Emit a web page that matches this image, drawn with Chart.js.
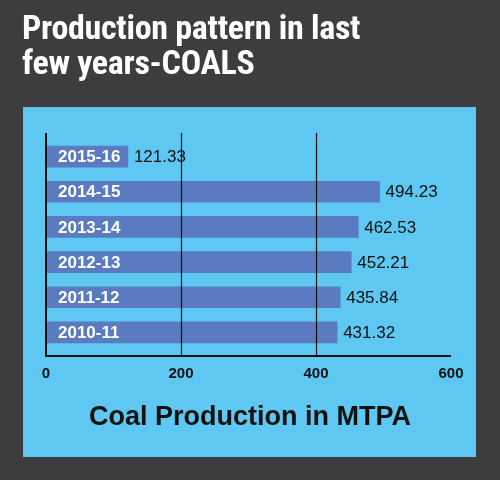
<!DOCTYPE html>
<html>
<head>
<meta charset="utf-8">
<script src="https://cdn.jsdelivr.net/npm/chart.js@4"></script>
<style>
  body { margin: 0; background: #3d3d3f; }
  #wrap { position: relative; width: 500px; height: 480px; }
  #title { position: absolute; left: 22px; top: 10px; color: #fff; font: bold 34px "Liberation Sans Narrow", "Roboto Condensed", sans-serif; line-height: 35px; letter-spacing: -0.3px; }
  canvas { position: absolute; left: 0; top: 0; }
</style>
</head>
<body>
<div id="wrap">
  <canvas id="c" width="500" height="480"></canvas>
  <div id="title">Production pattern in last<br>few years-COALS</div>
</div>
<script>
const years = ["2015-16", "2014-15", "2013-14", "2012-13", "2011-12", "2010-11"];
const production = [121.33, 494.23, 462.53, 452.21, 435.84, 431.32];
const xTicks = [0, 200, 400, 600];
const axisTitle = "Coal Production in MTPA";

const narrow = '"Liberation Sans Narrow", sans-serif';

const decor = {
    id: 'decor',
    beforeDraw(chart) {
        const ctx = chart.ctx;
        ctx.save();
        ctx.fillStyle = '#5ec8f2';
        ctx.fillRect(23, 107, 453, 350);
        ctx.restore();
    },
    afterDatasetsDraw(chart) {
        const ctx = chart.ctx;
        const x = chart.scales.x;
        const a = chart.chartArea;
        ctx.save();
        ctx.strokeStyle = '#111';
        ctx.lineWidth = 1.2;
        [200, 400].forEach(v => {
            const px = Math.round(x.getPixelForValue(v)) + 0.5;
            ctx.beginPath(); ctx.moveTo(px, a.top - 6); ctx.lineTo(px, a.bottom + 6); ctx.stroke();
        });
        ctx.lineWidth = 2;
        const x0 = x.getPixelForValue(0);
        ctx.beginPath();
        ctx.moveTo(x0, a.top - 6); ctx.lineTo(x0, a.bottom + 6);
        ctx.lineTo(x.getPixelForValue(600), a.bottom + 6);
        ctx.stroke();

        const meta = chart.getDatasetMeta(0);
        ctx.textBaseline = 'middle';
        meta.data.forEach((bar, i) => {
            ctx.fillStyle = '#fff';
            ctx.font = 'bold 17px ' + narrow;
            ctx.textAlign = 'left';
            ctx.fillText(years[i], x0 + 12, bar.y + 1);
            ctx.fillStyle = '#111';
            ctx.font = '17px ' + narrow;
            ctx.fillText(production[i].toFixed(2), bar.x + 6, bar.y + 1);
        });

        ctx.fillStyle = '#111';
        ctx.font = 'bold 15px ' + narrow;
        ctx.textAlign = 'center';
        xTicks.forEach(v => ctx.fillText(String(v), x.getPixelForValue(v), 374));
        ctx.font = 'bold 27px ' + narrow;
        ctx.fillText(axisTitle, 250, 418);
        ctx.restore();
    }
};

new Chart(document.getElementById('c').getContext('2d'), {
    type: 'bar',
    data: {
        labels: years,
        datasets: [{
            data: production,
            backgroundColor: '#5a7bbf',
            borderWidth: 0,
            barThickness: 21
        }]
    },
    options: {
        indexAxis: 'y',
        responsive: false,
        animation: false,
        layout: { padding: { left: 46, right: 49, top: 139, bottom: 130 } },
        plugins: { legend: { display: false }, tooltip: { enabled: false } },
        scales: {
            x: { min: 0, max: 600, display: false },
            y: { display: false }
        }
    },
    plugins: [decor]
});
</script>
</body>
</html>
